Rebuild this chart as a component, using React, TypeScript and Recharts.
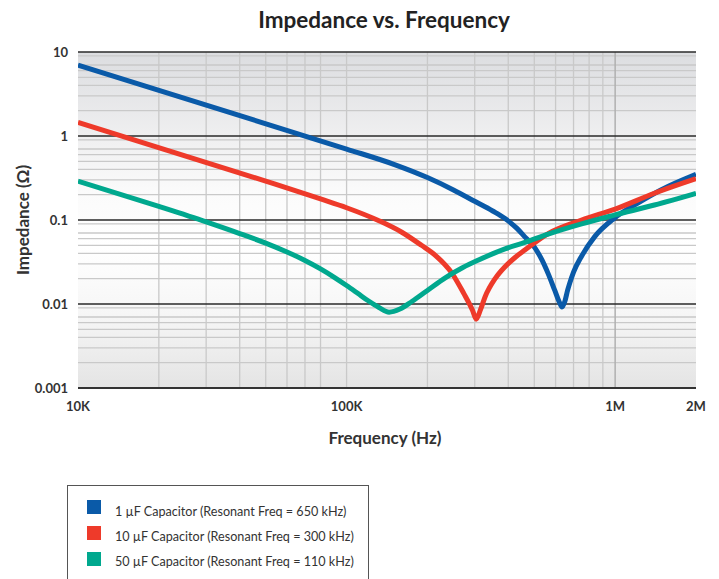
import { LineChart, Line, XAxis, YAxis, CartesianGrid } from "recharts";

const FONT = "Lato, 'Open Sans', sans-serif";

// axis ticks
const xTicks = [10000, 100000, 1000000, 2000000];
const xTickLabels = ["10K", "100K", "1M", "2M"];
const yTicks = [0.001, 0.01, 0.1, 1, 10];
const yTickLabels = ["0.001", "0.01", "0.1", "1", "10"];

// log grid
const xMinorGrid = [
  20000, 30000, 40000, 50000, 60000, 70000, 80000, 100000,
  200000, 300000, 400000, 500000, 600000, 700000, 800000, 900000,
];
const xMajorGrid = [1000000];
const yMinorGrid = [
  0.002, 0.003, 0.004, 0.005, 0.006, 0.007, 0.008, 0.009,
  0.02, 0.03, 0.04, 0.05, 0.06, 0.07, 0.08, 0.09,
  0.2, 0.3, 0.4, 0.5, 0.6, 0.7, 0.8, 0.9,
  2, 3, 4, 5, 6, 7, 8, 9,
];
const yMajorGrid = [0.01, 0.1, 1, 10];

// series (frequency in Hz, impedance in ohms)
const seriesNames = [
  "1 µF Capacitor (Resonant Freq = 650 kHz)",
  "10 µF Capacitor (Resonant Freq = 300 kHz)",
  "50 µF Capacitor (Resonant Freq = 110 kHz)",
];
const seriesColors = ["#0a5aa8", "#ee3a2a", "#00a88e"];

const blueFreq = [10000, 100000, 150000, 200000, 250000, 300000, 350000, 389000, 430000, 461000, 502000, 535000, 563000, 596000, 620000, 634000, 650000, 665000, 677000, 700000, 748000, 838000, 993000, 1210000, 1480000, 2000000];
const blueZ = [7.0, 0.7, 0.46, 0.32, 0.228, 0.167, 0.128, 0.104, 0.08, 0.063, 0.047, 0.033, 0.023, 0.0145, 0.0105, 0.0092, 0.0108, 0.0145, 0.0176, 0.024, 0.0366, 0.063, 0.105, 0.158, 0.228, 0.35];

const redFreq = [10000, 50000, 80000, 100000, 132000, 160000, 190000, 214000, 247000, 273000, 294000, 304000, 315000, 328000, 358000, 389000, 424000, 461000, 563000, 750000, 1000000, 1400000, 2000000];
const redZ = [1.45, 0.29, 0.178, 0.14, 0.098, 0.072, 0.05, 0.038, 0.0232, 0.0134, 0.0085, 0.0066, 0.0085, 0.0122, 0.0202, 0.0278, 0.0358, 0.0438, 0.069, 0.1, 0.135, 0.208, 0.31];

const greenFreq = [10000, 20000, 30000, 40000, 50000, 60000, 70000, 80000, 90000, 100000, 110000, 120000, 132000, 144000, 158000, 175000, 200000, 233000, 270000, 310000, 389000, 461000, 563000, 750000, 1000000, 1400000, 2000000];
const greenZ = [0.29, 0.145, 0.095, 0.069, 0.053, 0.0415, 0.033, 0.0262, 0.0208, 0.0166, 0.0134, 0.011, 0.0091, 0.008, 0.0087, 0.0107, 0.0145, 0.0205, 0.027, 0.0334, 0.0452, 0.054, 0.068, 0.09, 0.115, 0.151, 0.208];

const toData = (freq: number[], z: number[]) => freq.map((f, i) => ({ f, z: z[i] }));
const seriesData = [toData(blueFreq, blueZ), toData(redFreq, redZ), toData(greenFreq, greenZ)];

const YTitle = ({ viewBox }: any) => {
  const cy = viewBox.y + viewBox.height / 2;
  return (
    <text
      transform={`translate(${viewBox.x + 4}, ${cy}) rotate(-90)`}
      textAnchor="middle"
      dominantBaseline="central"
      fill="#333"
      fontSize={17}
      fontWeight={700}
      fontFamily={FONT}
    >
      Impedance (Ω)
    </text>
  );
};

const XTitle = ({ viewBox }: any) => (
  <text
    x={viewBox.x + viewBox.width / 2 - 2}
    y={viewBox.y + 49}
    textAnchor="middle"
    dominantBaseline="central"
    fill="#333"
    fontSize={17}
    fontWeight={700}
    fontFamily={FONT}
  >
    Frequency (Hz)
  </text>
);

export default function App() {
  return (
    <div style={{ position: "absolute", left: 0, top: 0, width: 719, height: 579, overflow: "hidden", background: "#fff", fontFamily: FONT }}>
      <div
        style={{
          position: "absolute",
          left: 384,
          top: 6,
          transform: "translateX(-50%)",
          fontSize: 22.5,
          fontWeight: 700,
          color: "#222",
          whiteSpace: "nowrap",
          lineHeight: "27px",
        }}
      >
        Impedance vs. Frequency
      </div>

      <LineChart width={719} height={460} margin={{ top: 52, right: 23, left: 18, bottom: 12 }}>
        <defs>
          <linearGradient id="plotBg" x1="0" y1="0" x2="0" y2="1">
            <stop offset="0" stopColor="#dcdde0" />
            <stop offset="0.25" stopColor="#efeff0" />
            <stop offset="0.42" stopColor="#fbfbfb" />
            <stop offset="0.58" stopColor="#ffffff" />
            <stop offset="0.78" stopColor="#f6f6f6" />
            <stop offset="1" stopColor="#e4e4e4" />
          </linearGradient>
        </defs>
        <CartesianGrid
          fill="url(#plotBg)"
          horizontalValues={yMinorGrid}
          verticalValues={xMinorGrid}
          stroke="#c9c9c9"
          strokeWidth={1.3}
        />
        <CartesianGrid fill="none" horizontal={false} verticalValues={xMajorGrid} stroke="#b0b0b0" strokeWidth={1.5} />
        <CartesianGrid fill="none" vertical={false} horizontalValues={yMajorGrid} stroke="#2a2a2a" strokeWidth={1.3} />
        <XAxis
          dataKey="f"
          type="number"
          scale="log"
          domain={[10000, 2000000]}
          allowDataOverflow
          ticks={xTicks}
          tickFormatter={(v: number) => xTickLabels[xTicks.indexOf(v)]}
          tickLine={false}
          tickMargin={8}
          axisLine={{ stroke: "#333", strokeWidth: 2 }}
          tick={{ fill: "#333", fontSize: 13, fontWeight: 700, fontFamily: FONT }}
          height={60}
          label={<XTitle />}
        />
        <YAxis
          dataKey="z"
          type="number"
          scale="log"
          domain={[0.001, 10]}
          allowDataOverflow
          ticks={yTicks}
          tickFormatter={(v: number) => yTickLabels[yTicks.indexOf(v)]}
          tickLine={false}
          tickMargin={4}
          axisLine={false}
          tick={{ fill: "#333", fontSize: 13, fontWeight: 700, fontFamily: FONT }}
          width={60}
          label={<YTitle />}
        />
        {seriesData.map((d, i) => (
          <Line
            key={seriesNames[i]}
            data={d}
            dataKey="z"
            name={seriesNames[i]}
            type="monotone"
            stroke={seriesColors[i]}
            strokeWidth={5}
            strokeLinejoin="round"
            dot={false}
            activeDot={false}
            isAnimationActive={false}
          />
        ))}
      </LineChart>

      <div
        style={{
          position: "absolute",
          left: 67,
          top: 485,
          width: 302,
          height: 120,
          border: "1px solid #555",
          boxSizing: "border-box",
        }}
      />
      {seriesNames.map((name, i) => (
        <div key={name}>
          <div
            style={{
              position: "absolute",
              left: 87,
              top: 500 + i * 25.8,
              width: 14,
              height: 14,
              background: seriesColors[i],
            }}
          />
          <div
            style={{
              position: "absolute",
              left: 115,
              top: 503 + i * 25,
              fontSize: 12.6,
              lineHeight: "17px",
              color: "#333",
              whiteSpace: "nowrap",
            }}
          >
            {name}
          </div>
        </div>
      ))}
    </div>
  );
}
